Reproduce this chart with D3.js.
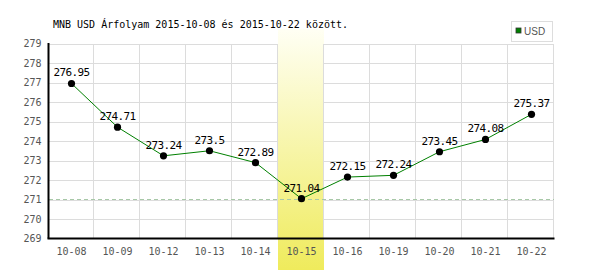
<!DOCTYPE html>
<meta charset="utf-8">
<style>
body { margin: 0; background: #fff; }
svg text { font-family: "DejaVu Sans Mono", monospace; }
.grid line { stroke: #dcdcdc; shape-rendering: crispEdges; }
.tick text { fill: #555; font-size: 10px; }
</style>
<body>
<svg id="chart" width="600" height="270"></svg>
<script src="https://cdn.jsdelivr.net/npm/d3@7/dist/d3.min.js"></script>
<script>
// dates and MNB USD rates
const days = ["10-08", "10-09", "10-12", "10-13", "10-14", "10-15", "10-16", "10-19", "10-20", "10-21", "10-22"];
const rates = [276.95, 274.71, 273.24, 273.5, 272.89, 271.04, 272.15, 272.24, 273.45, 274.08, 275.37];
const yTicks = [269, 270, 271, 272, 273, 274, 275, 276, 277, 278, 279];
const minDay = "10-15";
const minRate = 271.04;

const svg = d3.select("#chart");
const plotL = 48.5, plotR = 554.5, plotT = 43.5, plotB = 238.5;

const x = d3.scaleBand().domain(days).range([plotL, plotR]);
const y = d3.scaleLinear().domain([269, 279]).range([plotB, plotT]);

// gradient for the highlighted day
const grad = svg.append("defs").append("linearGradient")
    .attr("id", "hl").attr("x1", 0).attr("y1", 0).attr("x2", 0).attr("y2", 1);
grad.append("stop").attr("offset", "0%").attr("stop-color", "#fffff4");
grad.append("stop").attr("offset", "100%").attr("stop-color", "#efeb5c");

svg.append("rect")
    .attr("x", x(minDay) - 0.5)
    .attr("y", 29)
    .attr("width", x.bandwidth())
    .attr("height", 270 - 29)
    .attr("fill", "url(#hl)");

// grid
const grid = svg.append("g").attr("class", "grid");
grid.selectAll(".v").data(days.slice(1)).enter().append("line")
    .attr("x1", d => x(d) - 1).attr("x2", d => x(d) - 1)
    .attr("y1", plotT).attr("y2", plotB);
grid.append("line")
    .attr("x1", plotR - 1).attr("x2", plotR - 1)
    .attr("y1", plotT).attr("y2", plotB);

// horizontal grid, skipped inside the highlighted band
yTicks.slice(1).forEach(t => {
  const yy = Math.round(y(t)) + 0.5;
  [[plotL, x(minDay) - 1], [x(minDay) + x.bandwidth() - 1, plotR - 1]].forEach(seg => {
    grid.append("line").attr("x1", seg[0]).attr("x2", seg[1]).attr("y1", yy).attr("y2", yy);
  });
});

// minimum reference line
svg.append("line")
    .attr("x1", plotL).attr("x2", plotR - 1)
    .attr("y1", Math.round(y(minRate)) + 0.5).attr("y2", Math.round(y(minRate)) + 0.5)
    .attr("stroke", "#a8c8a8")
    .attr("stroke-dasharray", "4,3")
    .attr("shape-rendering", "crispEdges");

// axes
const yAxis = svg.append("g")
    .attr("transform", "translate(" + plotL + ",0)")
    .call(d3.axisLeft(y).tickValues(yTicks).tickSize(0).tickPadding(7).tickFormat(d3.format("d")));
yAxis.select(".domain").attr("stroke", "#000").attr("stroke-width", 2).attr("d", "M0," + (plotT - 0.5) + "V" + plotB);

const xAxis = svg.append("g")
    .attr("transform", "translate(0," + plotB + ")")
    .call(d3.axisBottom(x).tickSize(0).tickPadding(9));
xAxis.select(".domain").attr("stroke", "#000").attr("stroke-width", 2).attr("d", "M" + (plotL - 1) + ",0H" + plotR);

// line and points
const line = d3.line()
    .x((d, i) => x(days[i]) + x.bandwidth() / 2)
    .y(d => y(d));

svg.append("path")
    .datum(rates)
    .attr("d", line)
    .attr("fill", "none")
    .attr("stroke", "#008000")
    .attr("stroke-width", 1);

svg.selectAll(".pt").data(rates).enter().append("circle")
    .attr("cx", (d, i) => x(days[i]) + x.bandwidth() / 2)
    .attr("cy", d => y(d))
    .attr("r", 3.6)
    .attr("fill", "#000");

svg.selectAll(".lbl").data(rates).enter().append("text")
    .attr("x", (d, i) => x(days[i]) + x.bandwidth() / 2)
    .attr("y", d => y(d) - 7)
    .attr("text-anchor", "middle")
    .attr("font-size", "11px")
    .attr("letter-spacing", "-0.6px")
    .attr("fill", "#000")
    .text(d => d);

// title
svg.append("text")
    .attr("x", 53).attr("y", 28)
    .attr("font-size", "10px")
    .attr("fill", "#000")
    .text("MNB USD Árfolyam 2015-10-08 és 2015-10-22 között.");

// legend
svg.append("rect")
    .attr("x", 511.5).attr("y", 21.5).attr("width", 41).attr("height", 20)
    .attr("fill", "#fff").attr("stroke", "#ddd");
svg.append("rect")
    .attr("x", 516).attr("y", 28).attr("width", 5).attr("height", 5)
    .attr("fill", "#008000").attr("stroke", "#333").attr("stroke-width", 0.8);
svg.append("text")
    .attr("x", 524).attr("y", 35)
    .style("font-family", "'Liberation Sans Narrow', 'Liberation Sans', sans-serif")
    .attr("font-size", "10px")
    .attr("fill", "#555")
    .text("USD");
</script>
</body>
